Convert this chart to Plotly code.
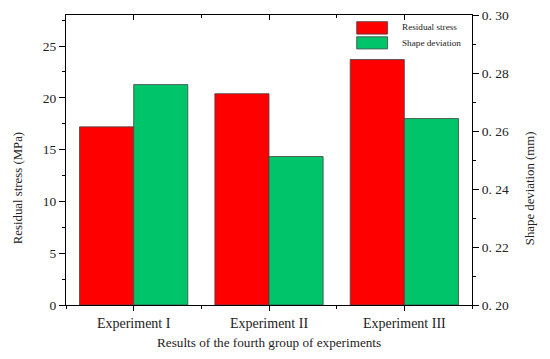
import plotly.graph_objects as go

categories = ["Experiment I", "Experiment II", "Experiment III"]
residual_stress = [17.2, 20.4, 23.7]          # MPa (left axis)
shape_deviation = [0.276, 0.2512, 0.2643]     # mm (right axis)
xpos = [0, 1, 2]
y2_ticks = [0.20, 0.22, 0.24, 0.26, 0.28, 0.30]
y2_ticktext = ["0. 20", "0. 22", "0. 24", "0. 26", "0. 28", "0. 30"]

RED = "#FF0000"
GREEN = "#00C46A"
FONT = "Liberation Serif"
Y2_BASE = 0.2

fig = go.Figure()
fig.add_trace(go.Bar(
    x=xpos, y=residual_stress, name="Residual stress",
    marker=dict(color=RED, line=dict(color="#444444", width=0.8)),
    width=0.4, offset=-0.4, yaxis="y", xaxis="x", showlegend=False,
))
fig.add_trace(go.Bar(
    x=xpos, y=[v - Y2_BASE for v in shape_deviation], base=Y2_BASE,
    name="Shape deviation",
    marker=dict(color=GREEN, line=dict(color="#444444", width=0.8)),
    width=0.4, offset=0.0, yaxis="y2", xaxis="x", showlegend=False,
    customdata=shape_deviation, hovertemplate="%{customdata}<extra></extra>",
))
# invisible trace so the mirrored top axis is rendered
fig.add_trace(go.Scatter(x=[0], y=[0], xaxis="x2", yaxis="y", mode="markers",
                         marker=dict(opacity=0), showlegend=False, hoverinfo="skip"))

axis_common = dict(showline=True, linecolor="black", linewidth=1.2,
                   showgrid=False, zeroline=False, automargin=False,
                   ticklabeloverflow="allow")

fig.update_layout(
    width=542, height=351,
    margin=dict(l=58, r=78, t=7, b=54),
    plot_bgcolor="white", paper_bgcolor="white",
    font=dict(family=FONT, size=12, color="#222222"),
    xaxis=dict(
        **axis_common, range=[-0.5, 2.5],
        tickmode="array", tickvals=xpos, ticktext=categories,
        ticks="outside", ticklen=5, tickwidth=1.2, tickcolor="black",
        tickfont=dict(size=14, family=FONT),
        minor=dict(tickmode="linear", tick0=0.5, dtick=1, ticks="outside",
                   ticklen=3, tickcolor="black", tickwidth=1),
    ),
    xaxis2=dict(
        **axis_common, range=[-0.5, 2.5], overlaying="x", side="top",
        tickmode="array", tickvals=xpos, showticklabels=False,
        ticks="inside", ticklen=5, tickwidth=1.2, tickcolor="black",
        minor=dict(tickmode="linear", tick0=0.5, dtick=1, ticks="inside",
                   ticklen=3, tickcolor="black", tickwidth=1),
    ),
    yaxis=dict(
        **axis_common, range=[0, 28],
        tickmode="linear", tick0=0, dtick=5,
        ticks="outside", ticklen=6, tickwidth=1.2, tickcolor="black",
        minor=dict(tickmode="linear", tick0=0, dtick=2.5, ticks="outside",
                   ticklen=3, tickcolor="black", tickwidth=1),
        tickfont=dict(size=13.5, family=FONT),
    ),
    yaxis2=dict(
        **axis_common, range=[0.2, 0.3], overlaying="y", side="right",
        tickmode="array", tickvals=y2_ticks, ticktext=y2_ticktext,
        ticks="outside", ticklen=6, tickwidth=1.2, tickcolor="black",
        minor=dict(tickmode="linear", tick0=0.2, dtick=0.01, ticks="outside",
                   ticklen=3, tickcolor="black", tickwidth=1),
        tickfont=dict(size=13.5, family=FONT),
    ),
)

# axis titles (placed as in the original)
fig.add_annotation(xref="paper", yref="paper", x=0.5, y=-0.131,
                   text="Results of the fourth group of experiments", showarrow=False,
                   xanchor="center", yanchor="middle",
                   font=dict(size=13.2, family=FONT, color="#222222"))
fig.add_annotation(xref="paper", yref="paper", x=-0.118, y=0.403,
                   text="Residual stress (MPa)", showarrow=False, textangle=-90,
                   xanchor="center", yanchor="middle",
                   font=dict(size=12.8, family=FONT, color="#222222"))
fig.add_annotation(xref="paper", yref="paper", x=1.143, y=0.403,
                   text="Shape deviation (mm)", showarrow=False, textangle=-90,
                   xanchor="center", yanchor="middle",
                   font=dict(size=12.8, family=FONT, color="#222222"))

# manual legend (large swatches as in the original)
legend_items = [("Residual stress", RED), ("Shape deviation", GREEN)]
legend_rows = [(0.977, 0.934, 0.958), (0.925, 0.883, 0.902)]
for (label, col), (ytop, ybot, ytxt) in zip(legend_items, legend_rows):
    fig.add_shape(type="rect", xref="paper", yref="paper",
                  x0=0.716, x1=0.792, y0=ybot, y1=ytop,
                  fillcolor=col, line=dict(color="#444444", width=0.8))
    fig.add_annotation(xref="paper", yref="paper", x=0.823, y=ytxt,
                       text=label, showarrow=False, xanchor="left", yanchor="middle",
                       font=dict(size=9.2, family=FONT, color="#222222"))

fig.write_html("out.html")
